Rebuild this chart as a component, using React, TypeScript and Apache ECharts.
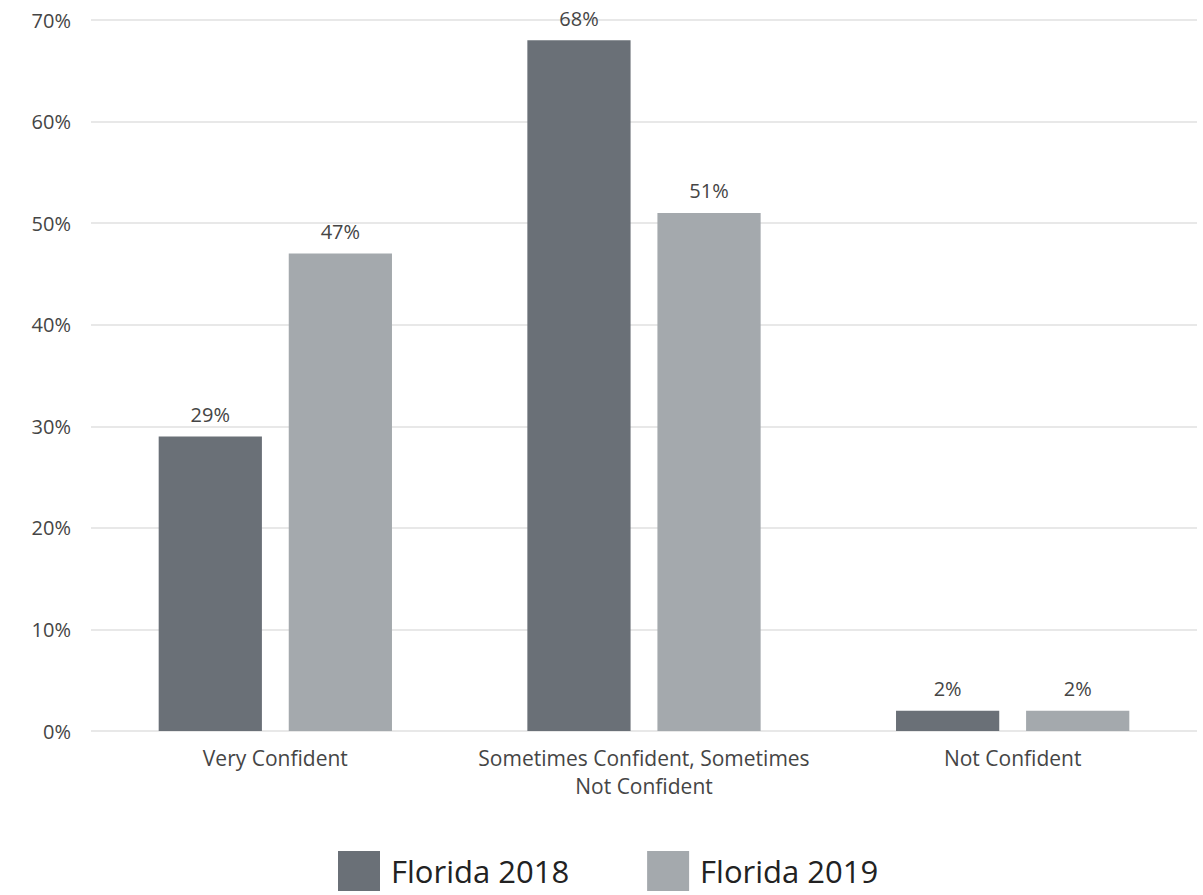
import React, { useEffect, useRef } from "react";
import * as echarts from "echarts";

const categories = ["Very Confident", "Sometimes Confident, Sometimes\nNot Confident", "Not Confident"];
const florida2018 = [29, 68, 2];
const florida2019 = [47, 51, 2];
const yTicks = [0, 10, 20, 30, 40, 50, 60, 70];

const FONT = "'Open Sans', Lato, sans-serif";
const TEXT = "#454545";

export default function App() {
  const ref = useRef<HTMLDivElement>(null);
  useEffect(() => {
    if (!ref.current) return;
    const chart = echarts.init(ref.current, undefined, { renderer: "svg" });
    chart.setOption({
      animation: false,
      textStyle: { fontFamily: FONT },
      grid: { left: 91, right: 6, top: 20, bottom: 164, containLabel: false },
      legend: {
        left: 338,
        top: 851,
        padding: 0,
        itemWidth: 42,
        itemHeight: 40,
        itemGap: 78,
        icon: "rect",
        textStyle: { fontSize: 31, color: "#222", fontFamily: FONT, padding: [0, 0, 0, 6] },
        data: ["Florida 2018", "Florida 2019"],
      },
      xAxis: {
        type: "category",
        data: categories,
        axisLine: { show: false },
        axisTick: { show: false },
        axisLabel: { interval: 0, fontSize: 21, color: TEXT, margin: 13, lineHeight: 28, fontFamily: FONT },
      },
      yAxis: {
        type: "value",
        min: 0,
        max: 70,
        interval: 10,
        axisLabel: {
          fontSize: 20,
          color: TEXT,
          margin: 20,
          fontFamily: FONT,
          formatter: (v: number) => (yTicks.includes(v) ? v + "%" : ""),
        },
        splitLine: { lineStyle: { color: "#e0e0e0", width: 1.5 } },
      },
      series: [
        {
          name: "Florida 2018",
          type: "bar",
          data: florida2018,
          barWidth: "28%",
          barGap: "26%",
          itemStyle: { color: "#6a7077" },
          label: { show: true, position: "top", distance: 12, fontSize: 20, color: TEXT, formatter: "{c}%", fontFamily: FONT },
        },
        {
          name: "Florida 2019",
          type: "bar",
          data: florida2019,
          barWidth: "28%",
          itemStyle: { color: "#a4a9ad" },
          label: { show: true, position: "top", distance: 12, fontSize: 20, color: TEXT, formatter: "{c}%", fontFamily: FONT },
        },
      ],
    });
    return () => chart.dispose();
  }, []);
  return <div ref={ref} style={{ position: "fixed", left: 0, top: 0, width: 1203, height: 895, background: "#fff" }} />;
}
